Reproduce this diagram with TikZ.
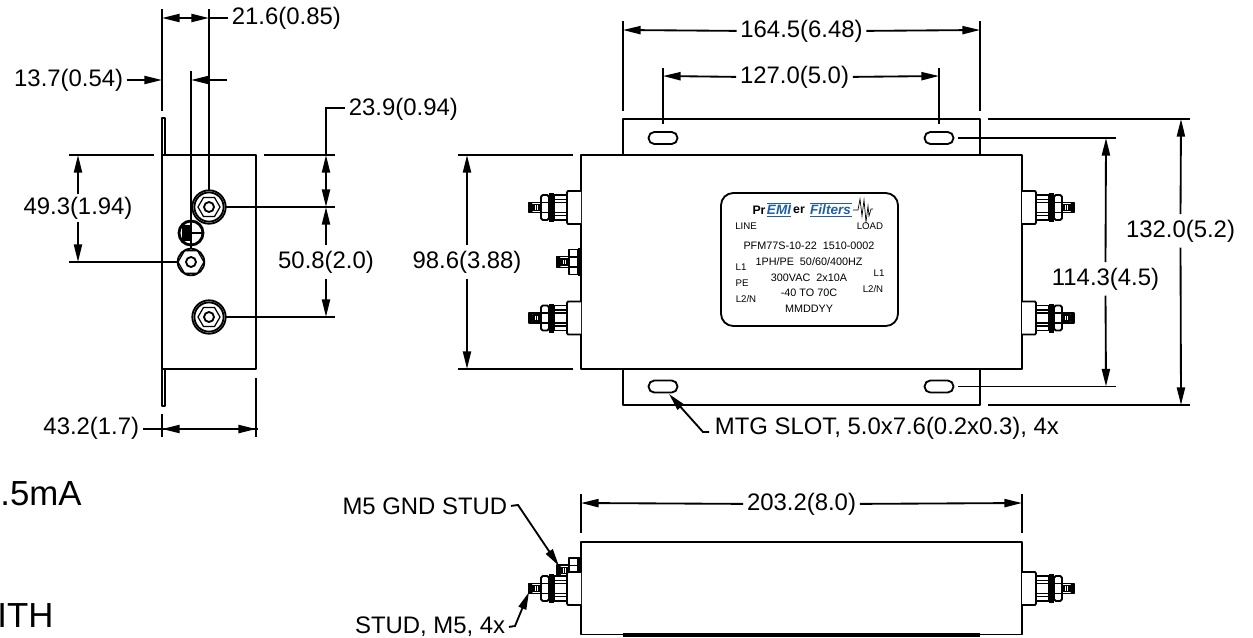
\documentclass[tikz,border=0pt]{standalone}
\usepackage{fontspec}
\setmainfont{Liberation Sans}
\usetikzlibrary{arrows.meta}
\definecolor{LogoBlue}{HTML}{1F5FA8}
\tikzset{
    bigstud/.pic={
        % boss, nut, washer, nut, thread
        \draw[part, fill=white] (0,-16.5) -- (-13,-16.5) -- (-14,-15) -- (-14,15) -- (-13,16.5) -- (0,16.5);
        \draw[part, fill=white] (-14,-12.5) rectangle (-27,12.5);
        \draw[fine] (-14,-8) -- (-27,-8) (-14,-5) -- (-27,-5) (-14,5) -- (-27,5) (-14,8) -- (-27,8);
        \fill[black] (-27,-14.5) rectangle (-32,14.5);
        \draw[part, fill=white, rounded corners=1pt] (-32,-12.5) rectangle (-40,12.5);
        \draw[fine] (-32,-5) -- (-40,-5) (-32,5) -- (-40,5);
        \draw[part, fill=white] (-40,-5) rectangle (-52,5);
        \fill[black, rounded corners=1pt] (-52,-5) rectangle (-48,5);
        \draw[fine] (-47,-3) rectangle (-42,3) (-44.5,-3) -- (-44.5,3);
    },
    smallstud/.pic={
        \fill[black] (0,-14) rectangle (-3,14);
        \draw[part, fill=white] (-3,-12.5) rectangle (-12,12.5);
        \draw[fine] (-3,-5) -- (-12,-5) (-3,5) -- (-12,5);
        \draw[part, fill=white] (-12,-5.5) rectangle (-24,5.5);
        \fill[black, rounded corners=1pt] (-24,-5.5) rectangle (-20,5.5);
        \draw[fine] (-19,-3) rectangle (-14,3) (-16.5,-3) -- (-16.5,3);
    },
    studface/.pic={
        \draw[part, fill=white] (0,0) circle (16.7);
        \draw[part] (0,0) circle (14.6);
        \draw[fine] (0:11) -- (60:11) -- (120:11) -- (180:11) -- (240:11) -- (300:11) -- cycle;
        \draw[part] (0,0) circle (5);
    },
    midface/.pic={
        \draw[part, fill=white] (0,0) circle (13.3);
        \draw[fine] (0:13) -- (60:13) -- (120:13) -- (180:13) -- (240:13) -- (300:13) -- cycle;
        \draw[part] (0,0) circle (5);
    },
}
\begin{document}
\begin{tikzpicture}[
        x=0.02cm, y=-0.02cm,
        part/.style={line width=1.05pt, line join=round},
        fine/.style={line width=0.7pt},
        extline/.style={line width=1.05pt},
        dim/.style={line width=1.05pt, {Triangle[length=10pt,width=4.6pt]}-{Triangle[length=10pt,width=4.6pt]}},
        dimto/.style={line width=1.05pt, -{Triangle[length=10pt,width=4.6pt]}},
        lead/.style={line width=1.05pt, -{Triangle[length=10pt,width=4.6pt]}},
        label/.style={font=\fontsize{13.6}{16}\selectfont, inner xsep=2pt, inner ysep=3pt, yshift=-0.5pt},
        plate/.style={font=\fontsize{6.15}{8}\selectfont, inner sep=0pt},
        tag/.style={font=\fontsize{5.5}{7}\selectfont, inner sep=0pt},
        logo/.style={font=\fontsize{7.7}{9}\selectfont\bfseries\itshape, text=LogoBlue, inner sep=0pt},
        cutoff/.style={font=\fontsize{19.8}{24}\selectfont, inner sep=0pt, anchor=base west}
    ]
    \useasboundingbox (0,0) rectangle (1253,637);

    % Side view
    \draw[part] (162,155) rectangle (256,369);
    \draw[part] (165,155) -- (165,118) -- (162,118) -- (162,155);
    \draw[part] (165,369) -- (165,406) -- (162,406) -- (162,369);

    % Side view extension lines
    \draw[extline] (162,9) -- (162,111);
    \draw[extline] (209,9) -- (209,192);
    \draw[extline] (191,71) -- (191,249);
    \draw[extline] (69,155) -- (154,155);
    \draw[extline] (264,155) -- (335,155);
    \draw[extline] (225,207) -- (335,207);
    \draw[extline] (225,317) -- (335,317);
    \draw[extline] (69,262) -- (178,262);
    \draw[extline] (162,414) -- (162,437);
    \draw[extline] (256,378) -- (256,437);

    % Side view studs
    \draw[line width=1.6pt] (191,233) circle (12);
    \fill[black] (182,225) rectangle (190,241);
    \draw[fine] (191,233) -- (203,233);
    \pic at (209,207) {studface};
    \pic at (191,262) {midface};
    \pic at (209,317) {studface};

    % Side view dimensions
    \node (dimA) [label, anchor=west] at (228,17) {21.6(0.85)};
    \draw[dim] (162,18) -- (209,18);
    \draw[extline] (209,18) -- (228,18);
    \node (dimB) [label, anchor=east] at (127,79) {13.7(0.54)};
    \draw[dimto] (127,80) -- (162,80);
    \coordinate (stubB) at (227,80);
    \draw[dimto] (stubB) -- (191,80);
    \node (dimC) [label, anchor=west] at (345,108) {23.9(0.94)};
    \draw[extline] (345,108) -- (326,108) -- (326,155);
    \draw[dim] (326,155) -- (326,207);
    \node (dimD) [label] at (326,261) {50.8(2.0)};
    \draw[dimto] (dimD.north) -- (326,207);
    \draw[dimto] (dimD.south) -- (326,317);
    \node (dimE) [label] at (78,207) {49.3(1.94)};
    \draw[dimto] (dimE.north) ++(0,3) -- (78,155);
    \draw[dimto] (dimE.south) ++(0,-3) -- (78,262);
    \node (dimF) [label, anchor=east] at (143,427) {43.2(1.7)};
    \draw[extline] (143,429) -- (258,429);
    \draw[dim] (162,429) -- (256,429);

    % Front view
    \draw[part] (623,155) -- (623,119) -- (980,119) -- (980,155);
    \draw[part] (623,369) -- (623,405) -- (980,405) -- (980,369);
    \draw[part] (581,155) rectangle (1022,369);
    \node (slotA) [draw, line width=1.05pt, rounded corners=3.2pt, minimum width=16.4pt, minimum height=6.8pt, inner sep=0pt] at (663,138) {};
    \node (slotB) [draw, line width=1.05pt, rounded corners=3.2pt, minimum width=16.4pt, minimum height=6.8pt, inner sep=0pt] at (939,138) {};
    \node (slotC) [draw, line width=1.05pt, rounded corners=3.2pt, minimum width=16.4pt, minimum height=6.8pt, inner sep=0pt] at (663,386.5) {};
    \node (slotD) [draw, line width=1.05pt, rounded corners=3.2pt, minimum width=16.4pt, minimum height=6.8pt, inner sep=0pt] at (939,386.5) {};
    \pic at (581,207.5) {bigstud};
    \pic at (581,318) {bigstud};
    \pic at (581,262) {smallstud};
    \pic[xscale=-1] at (1022,207.5) {bigstud};
    \pic[xscale=-1] at (1022,318) {bigstud};

    % Name plate
    \draw[part, rounded corners=7pt] (721,193) rectangle (898,326);
    \node (logoA) [font=\fontsize{7}{8}\selectfont\bfseries, inner sep=0pt] at (759,210) {Pr};
    \node (logoB) [logo] at (779,209.5) {EMI};
    \node (logoC) [font=\fontsize{7}{8}\selectfont\bfseries, inner sep=0pt] at (799,210) {er};
    \node (logoD) [logo] at (830.5,209.5) {Filters};
    \draw[LogoBlue, line width=0.5pt] (767,216.5) -- (791,216.5) (810,216.5) -- (852,216.5) (810,203) -- (852,203) (767,203) -- (791,203);
    \draw[line width=0.4pt] (853,210) -- (858,210) -- (860,199) -- (862,216) -- (864,200) -- (866,222) -- (868,206) -- (869,216) -- (871,209) -- (873,209);
    \node (tagLine) [tag] at (746,226) {LINE};
    \node (tagLoad) [tag] at (870,226) {LOAD};
    \node (plateA) [plate] at (809,246) {PFM77S-10-22\ \ 1510-0002};
    \node (plateB) [plate] at (809,262) {1PH/PE\ \ 50/60/400HZ};
    \node (plateC) [plate] at (809,278) {300VAC\ \ 2x10A};
    \node (plateD) [plate] at (809,293) {-40 TO 70C};
    \node (plateE) [plate] at (809,309) {MMDDYY};
    \node (tagL1) [tag] at (741,267) {L1};
    \node (tagPE) [tag] at (742,283) {PE};
    \node (tagLN) [tag] at (746,299) {L2/N};
    \node (tagRL) [tag] at (879,273) {L1};
    \node (tagRN) [tag] at (873,289) {L2/N};

    % Front view extension lines
    \draw[extline] (623,21) -- (623,111);
    \draw[extline] (980,21) -- (980,111);
    \draw[extline] (663,68) -- (663,124);
    \draw[extline] (939,68) -- (939,124);
    \draw[extline] (458,155) -- (573,155);
    \draw[extline] (458,369) -- (573,369);
    \draw[extline] (988,119) -- (1190,119);
    \draw[extline] (988,405) -- (1190,405);
    \draw[extline] (slotB.east) ++(4,0) -- (1116,138);
    \draw[extline] (slotD.east) ++(4,0) -- (1116,386.5);

    % Front view dimensions
    \node (dimG) [label] at (801.5,30) {164.5(6.48)};
    \draw[dimto] (dimG.west) -- (623,30);
    \draw[dimto] (dimG.east) -- (980,30);
    \node (dimH) [label] at (794.5,76) {127.0(5.0)};
    \draw[dimto] (dimH.west) -- (663,76);
    \draw[dimto] (dimH.east) -- (939,76);
    \node (dimI) [label] at (467,261) {98.6(3.88)};
    \draw[dimto] (dimI.north) -- (467,155);
    \draw[dimto] (dimI.south) -- (467,369);
    \node (dimJ) [label] at (1105.5,278) {114.3(4.5)};
    \draw[dimto] (dimJ.north) -- (1106,138);
    \draw[dimto] (dimJ.south) -- (1106,386.5);
    \node (dimK) [label] at (1180.5,230) {132.0(5.2)};
    \draw[dimto] (dimK.north) -- (1181,119);
    \draw[dimto] (dimK.south) -- (1181,405);
    \node (noteA) [label, anchor=west] at (711,427) {MTG SLOT, 5.0x7.6(0.2x0.3), 4x};
    \draw[lead] (709,432) -- (703,432) -- (669,394);

    % Bottom view
    \draw[part] (581,542) rectangle (1022,634.5);
    \fill[black] (623,633) rectangle (980,637);
    \pic at (581,570.5) {smallstud};
    \pic at (581,588.5) {bigstud};
    \pic[xscale=-1] at (1022,588.5) {bigstud};
    \draw[extline] (581,494) -- (581,533);
    \draw[extline] (1022,494) -- (1022,533);
    \node (dimL) [label] at (801.5,503) {203.2(8.0)};
    \draw[dimto] (dimL.west) -- (581,503);
    \draw[dimto] (dimL.east) -- (1022,503);
    \node (noteB) [label, anchor=east] at (511,505) {M5 GND STUD};
    \draw[lead] (noteB.east) -- (518,505) -- (559,566);
    \node (noteC) [label, anchor=east] at (509,626) {STUD, M5, 4x};
    \draw[lead] (noteC.east) -- (515,626) -- (529,592);

    % Notes cut off by the left edge
    \node (noteD) [cutoff] at (0,505.7) {.5mA};
    \node (noteE) [cutoff] at (-3,627) {ITH};
\end{tikzpicture}
\end{document}
